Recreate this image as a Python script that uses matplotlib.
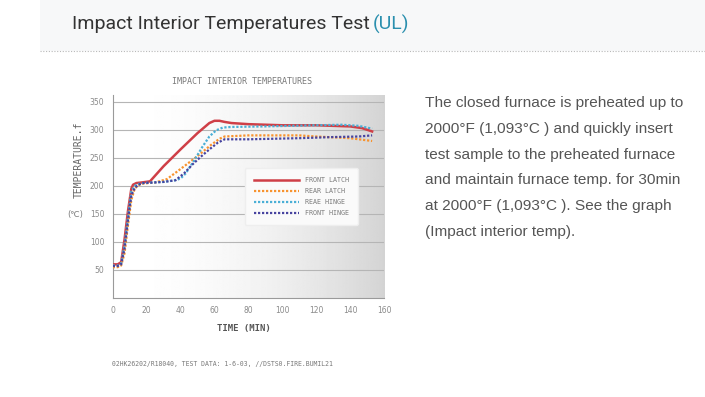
import numpy as np
import matplotlib.pyplot as plt
from matplotlib.patches import Rectangle

# Datos (tiempo en min, temperatura)
t_front_latch = [0, 3, 5, 7, 9, 11, 12, 14, 17, 22, 30, 40, 50, 57, 60, 63, 66, 70, 80, 100, 120, 140, 147, 153]
front_latch = [60, 60, 64, 105, 155, 195, 202, 205, 206, 208, 235, 265, 294, 312, 316, 316, 314, 312, 310, 308, 308, 306, 303, 297]

t_rear_latch = [0, 3, 5, 7, 9, 11, 13, 15, 18, 25, 32, 40, 50, 58, 63, 66, 80, 110, 120, 140, 153]
rear_latch = [55, 55, 58, 80, 130, 175, 195, 201, 204, 206, 212, 230, 253, 273, 284, 288, 290, 290, 288, 285, 280]

t_rear_hinge = [0, 3, 5, 7, 9, 11, 13, 15, 18, 30, 37, 40, 43, 48, 53, 57, 61, 65, 70, 90, 120, 135, 145, 153]
rear_hinge = [58, 58, 62, 95, 145, 190, 200, 203, 205, 207, 210, 213, 222, 245, 270, 288, 299, 304, 305, 306, 308, 309, 307, 302]

t_front_hinge = [0, 3, 5, 7, 9, 11, 13, 15, 18, 30, 37, 42, 47, 52, 57, 62, 66, 80, 110, 130, 145, 153]
front_hinge = [57, 57, 60, 88, 138, 183, 196, 202, 205, 207, 210, 222, 238, 252, 265, 277, 283, 283, 285, 287, 288, 290]

y_ticks = [50, 100, 150, 200, 250, 300, 350]
x_ticks = [0, 20, 40, 60, 80, 100, 120, 140, 160]

gris = '#7a7a7a'
mono = 'DejaVu Sans Mono'

fig = plt.figure(figsize=(7.05, 3.97), dpi=100)
fig.patch.set_facecolor('white')

# Banda de cabecera
fig.patches.append(Rectangle((40 / 705, 1 - 51 / 397), 1, 51 / 397, transform=fig.transFigure,
                             facecolor='#f7f8f9', edgecolor='none', zorder=0))
fig.lines.append(plt.Line2D([40 / 705, 1], [1 - 51 / 397, 1 - 51 / 397], transform=fig.transFigure,
                            color='#b8b8b8', lw=0.8, linestyle=(0, (1, 1.5))))
titulo = fig.text(72 / 705, 1 - 24 / 397, 'Impact Interior Temperatures Test', fontsize=14,
                  family='Roboto', color='#333333', va='center', ha='left')
fig.canvas.draw()
bb = titulo.get_window_extent(fig.canvas.get_renderer())
fig.text((bb.x1 + 3) / 705, 1 - 24 / 397, '(UL)', fontsize=14,
         family='Roboto', color='#2a8fae', va='center', ha='left')

# Grafico
ax = fig.add_axes([112.7 / 705, 1 - 298 / 397, (384 - 112.7) / 705, (298 - 95) / 397])
grad = np.linspace(0, 1, 256).reshape(1, -1)
ax.imshow(1 - grad ** 2 * 0.17, extent=[0, 1, 0, 1], transform=ax.transAxes, cmap='gray',
          vmin=0, vmax=1, aspect='auto', zorder=0)
for y in y_ticks:
    ax.axhline(y, color='#b5b5b5', lw=0.8, zorder=1)

ax.plot(t_front_latch, front_latch, color='#cf3f47', lw=1.8, label='FRONT LATCH', zorder=3)
ax.plot(t_rear_latch, rear_latch, color='#f7932f', lw=1.6, linestyle=(0, (1, 0.8)), label='REAR LATCH', zorder=3)
ax.plot(t_rear_hinge, rear_hinge, color='#4aafd6', lw=1.6, linestyle=(0, (1, 0.8)), label='REAE HINGE', zorder=3)
ax.plot(t_front_hinge, front_hinge, color='#47439f', lw=1.6, linestyle=(0, (1, 0.8)), label='FRONT HINGE', zorder=3)

ax.set_xlim(0, 160)
ax.set_ylim(0, 362)
ax.set_xticks(x_ticks)
ax.set_yticks(y_ticks)
ax.tick_params(length=0, labelsize=5.5, labelcolor='#8a8a8a', pad=6)
for s in ['top', 'right']:
    ax.spines[s].set_visible(False)
for s in ['left', 'bottom']:
    ax.spines[s].set_color('#9a9a9a')
    ax.spines[s].set_linewidth(0.8)

leg = ax.legend(loc='center left', bbox_to_anchor=(0.475, 0.5), prop={'family': mono, 'size': 4.8},
                frameon=True, handlelength=6.8, labelspacing=0.75, borderpad=1.3, handletextpad=0.9,
                fancybox=True, edgecolor='#eeeeee', facecolor='#fafafa', framealpha=1)
for txt in leg.get_texts():
    txt.set_color(gris)

fig.text(242 / 705, 1 - 82 / 397, 'IMPACT INTERIOR TEMPERATURES', fontsize=6, color=gris,
         ha='center', va='center', family=mono)
fig.text(79 / 705, 1 - 160 / 397, 'TEMPERATURE.f', fontsize=7, color='#666666', rotation=90,
         ha='center', va='center', family=mono)
fig.text(75 / 705, 1 - 214 / 397, '(℃)', fontsize=6, color=gris, ha='center', va='center')
fig.text(244 / 705, 1 - 329 / 397, 'TIME (MIN)', fontsize=6.5, color='#555555', ha='center',
         va='center', fontweight='bold', family=mono)
fig.text(112 / 705, 1 - 364 / 397, '02HK26202/R18040, TEST DATA: 1-6-03, //DSTS0.FIRE.BUMIL21',
         fontsize=4.7, color=gris, ha='left', va='center', family=mono)

texto = ['The closed furnace is preheated up to',
         '2000°F (1,093°C ) and quickly insert',
         'test sample to the preheated furnace',
         'and maintain furnace temp. for 30min',
         'at 2000°F (1,093°C ). See the graph',
         '(Impact interior temp).']
for i, linea in enumerate(texto):
    fig.text(425 / 705, 1 - (103 + i * 25.8) / 397, linea, fontsize=11.1, color='#555555',
             family='Liberation Sans', ha='left', va='center')

fig.savefig('out.png', dpi=100)
